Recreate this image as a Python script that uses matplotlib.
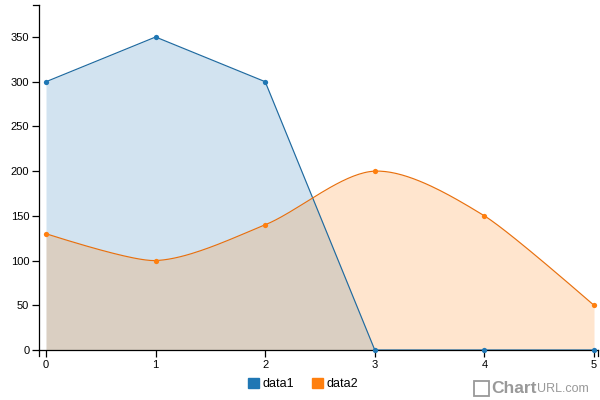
import numpy as np
import matplotlib
matplotlib.use("Agg")
import matplotlib.pyplot as plt
from matplotlib.patches import Patch, Rectangle

# dados
x = [0, 1, 2, 3, 4, 5]
data1 = [300, 350, 300, 0, 0, 0]
data2 = [130, 100, 140, 200, 150, 50]
series_names = ["data1", "data2"]
y_ticks = [0, 50, 100, 150, 200, 250, 300, 350]

c1 = "#1f77b4"
c2 = "#ff7f0e"

plt.rcParams['font.family'] = ['Liberation Sans', 'DejaVu Sans']


def cardinal(xs, ys, tension=0.7, n=40):
    # mesma ideia do spline cardinal do d3 v3 (quad nas pontas, cubicas no meio)
    pts = np.column_stack([xs, ys]).astype(float)
    a = (1 - tension) / 2
    tang = [a * (pts[i + 1] - pts[i - 1]) for i in range(1, len(pts) - 1)]
    t = np.linspace(0, 1, n)[:, None]
    out = []

    def quad(p0, c, p1):
        return (1 - t) ** 2 * p0 + 2 * (1 - t) * t * c + t ** 2 * p1

    def cubic(p0, c0, c1_, p1):
        return ((1 - t) ** 3 * p0 + 3 * (1 - t) ** 2 * t * c0
                + 3 * (1 - t) * t ** 2 * c1_ + t ** 3 * p1)

    out.append(quad(pts[0], pts[1] - tang[0] * 2 / 3, pts[1]))
    for i in range(1, len(pts) - 2):
        out.append(cubic(pts[i], pts[i] + tang[i - 1], pts[i + 1] - tang[i], pts[i + 1]))
    out.append(quad(pts[-2], pts[-2] + tang[-1] * 2 / 3, pts[-1]))
    curve = np.vstack(out)
    return curve[:, 0], curve[:, 1]


fig = plt.figure(figsize=(6, 4), dpi=100)
ax = fig.add_axes([39 / 600, 50 / 400, 559 / 600, 345 / 400])

# data1 - linha reta com area
ax.fill_between(x, data1, 0, color=c1, alpha=0.2, lw=0)
ax.plot(x, data1, color="#1f6aa0", lw=0.85, zorder=3)
ax.plot(x, data1, 'o', color=c1, ms=3.8, mew=0, zorder=4, clip_on=False)

# data2 - spline com area
sx, sy = cardinal(x, data2)
ax.fill_between(sx, sy, 0, color=c2, alpha=0.2, lw=0)
ax.plot(sx, sy, color="#e8700e", lw=0.85, zorder=3)
ax.plot(x, data2, 'o', color=c2, ms=3.8, mew=0, zorder=4, clip_on=False)

ax.set_xlim(-7 / 109.6, 5 + 4 / 109.6)
ax.set_ylim(0, 345 / (313 / 350))
ax.set_xticks(x)
ax.set_yticks(y_ticks)
ax.spines['top'].set_visible(False)
ax.spines['right'].set_visible(False)
for s in ['left', 'bottom']:
    ax.spines[s].set_linewidth(0.9)
ax.tick_params(labelsize=8, length=5, width=0.9, pad=2)

# ticks externos nas pontas dos eixos (estilo c3)
fig.add_artist(plt.Line2D([33 / 600, 39 / 600], [395 / 400, 395 / 400], color='black', lw=0.9))
fig.add_artist(plt.Line2D([598 / 600, 598 / 600], [50 / 400, 44 / 400], color='black', lw=0.9))
fig.add_artist(plt.Line2D([39 / 600, 39 / 600], [50 / 400, 44 / 400], color='black', lw=0.9))

# legenda
handles = [Patch(color=c1, label=series_names[0]), Patch(color=c2, label=series_names[1])]
fig.legend(handles=handles, loc='center', bbox_to_anchor=(0.505, 1 - 384 / 400), ncol=2,
           frameon=False, fontsize=9, handlelength=0.9, handleheight=0.9,
           handletextpad=0.3, columnspacing=1.4)

# marca d'agua
fig.add_artist(Rectangle((474 / 600, 4 / 400), 15 / 600, 15 / 400, facecolor='none',
                         edgecolor='#999999', lw=1.3))
fig.text(491 / 600, 11.5 / 400, "Chart", fontsize=12.5, fontweight='bold', color='#999999', va='center')
fig.text(537 / 600, 10.5 / 400, "URL.com", fontsize=9, color='#999999', va='center')

fig.savefig("out.png", dpi=100)
